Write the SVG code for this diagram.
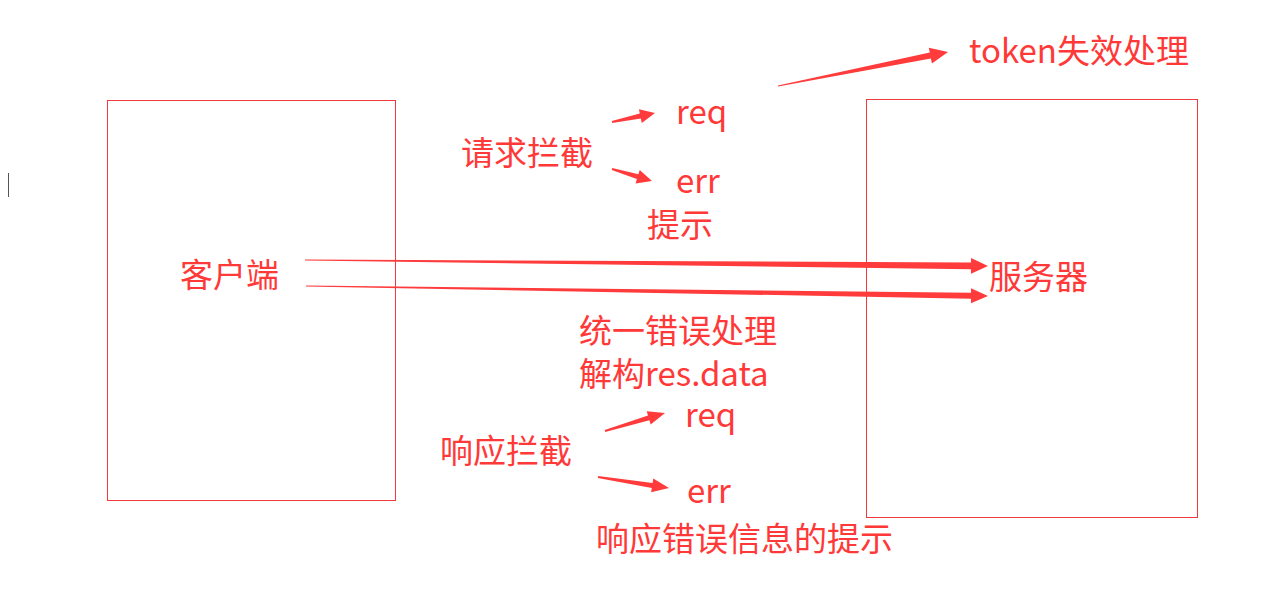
<svg xmlns="http://www.w3.org/2000/svg" width="1275" height="615" viewBox="0 0 1275 615">
<style>
.box{fill:none;stroke:#f23c3c;stroke-width:1}
.t{font-family:"Noto Sans CJK SC","Microsoft YaHei",sans-serif;font-size:33px;fill:#ff3838}
.a{fill:#ff3b3b;stroke:none}
</style>
<rect width="1275" height="615" fill="#fff"/>
<line x1="8.5" y1="173" x2="8.5" y2="197" stroke="#555" stroke-width="1"/>
<g id="client">
<rect class="box" x="107.5" y="100.5" width="288" height="400"/>
<text class="t" x="180" y="287">客户端</text>
</g>
<g id="server">
<rect class="box" x="866.5" y="99.5" width="331" height="418"/>
<text class="t" x="989" y="289">服务器</text>
</g>
<g id="labels">
<text class="t" x="969" y="63">token失效处理</text>
<text class="t" x="676" y="124">req</text>
<text class="t" x="461" y="165">请求拦截</text>
<text class="t" x="676" y="193">err</text>
<text class="t" x="647" y="237">提示</text>
<text class="t" x="579" y="343">统一错误处理</text>
<text class="t" x="579" y="386">解构res.data</text>
<text class="t" x="685" y="427">req</text>
<text class="t" x="440" y="463">响应拦截</text>
<text class="t" x="687" y="503">err</text>
<text class="t" x="596" y="551">响应错误信息的提示</text>
</g>
<g id="connectors">
<polygon class="a" points="305,259.5 971,262.5 971,258 988,266 971,273.8 971,269.3 305,260.5"/>
<polygon class="a" points="306,285.5 971,292.8 971,288.3 988,296 971,303.2 971,298.7 306,286.5"/>
<polygon class="a" points="777.9,85.5 929.8,52.6 928.8,47.7 948,52 931.9,63.4 930.9,58.5 778.1,86.5"/>
<polygon class="a" points="611.8,121 639.8,113.6 638.9,109.2 655,113 641.8,122.9 640.8,118.5 612.2,123"/>
<polygon class="a" points="612.3,168 638.4,174.3 639.7,170 652,181 635.6,183.4 636.9,179.1 611.7,170"/>
<polygon class="a" points="604.7,430 648,415.5 646.7,411.2 665,413 650.7,424.6 649.4,420.3 605.3,432"/>
<polygon class="a" points="598.2,476 652.6,482.9 653.3,478.5 669,488 651.1,492.3 651.8,487.9 597.8,478"/>
</g>
</svg>
